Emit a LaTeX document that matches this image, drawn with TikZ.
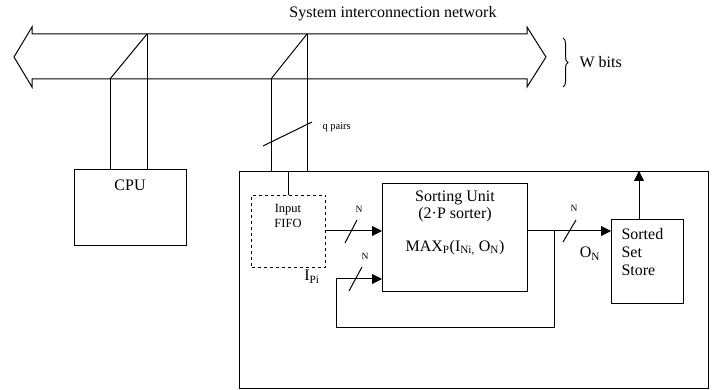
\documentclass[tikz,border=0pt]{standalone}
\usepackage{fontspec}
\setmainfont{Liberation Serif}
\usetikzlibrary{arrows.meta,decorations.pathreplacing}
\begin{document}
\begin{tikzpicture}[x=1pt,y=-1pt,
  line width=1pt,
  box/.style={draw, rectangle, inner sep=0pt, anchor=north west},
  big/.style={font=\fontsize{16}{19}\selectfont, inner sep=0pt},
  mid/.style={font=\fontsize{12.5}{15}\selectfont, inner sep=0pt},
  tiny/.style={font=\fontsize{9.5}{11}\selectfont, inner sep=0pt},
  arr/.style={-{Triangle[length=10pt,width=10pt]}},
]
\useasboundingbox (0,0) rectangle (713,390);

% bus
\draw (14,57) -- (32,27) -- (32,34) -- (527,34) -- (527,27) -- (546,57) -- (527,87) -- (527,79) -- (32,79) -- (32,87) -- cycle;
\node[big] (title) at (393,14) {System interconnection network};
\draw[decorate, decoration={brace, amplitude=5pt}] (563,38) -- (563,87);
\node[big, anchor=west] (wbits) at (579,62) {W bits};

% taps
\coordinate (c1a) at (110,79);
\coordinate (c1b) at (147,34);
\coordinate (c2a) at (271,79);
\coordinate (c2b) at (307,34);

% boxes
\node[box, minimum width=112pt, minimum height=76pt] (cpu) at (74,169) {};
\node[big] (cputxt) at (130,185) {CPU};
\node[box, minimum width=469pt, minimum height=217pt] (sys) at (239,171) {};
\node[box, dashed, minimum width=74pt, minimum height=72pt] (fifo) at (251,195) {};
\node[mid, align=center] (fifotxt) at (288,216) {Input\\FIFO};
\node[box, minimum width=145pt, minimum height=108pt] (sort) at (382,183) {};
\node[big] (s1) at (455,198) {Sorting Unit};
\node[big] (s2) at (455,215) {(2·P sorter)};
\node[big] (s3) at (455,248) {MAX\textsubscript{P}(I\textsubscript{Ni,} O\textsubscript{N})};
\node[box, minimum width=72pt, minimum height=84pt] (store) at (611,219) {};
\node[big, anchor=west] (st1) at (621,234) {Sorted};
\node[big, anchor=west] (st2) at (621,252) {Set};
\node[big, anchor=west] (st3) at (621,270) {Store};

% bus to CPU
\draw (c1a) -- (c1b);
\draw (c1b) -- (c1b |- cpu.north);
\draw (c1a) -- (c1a |- cpu.north);
% bus to system
\draw (c2a) -- (c2b);
\draw (c2b) -- (c2b |- sys.north);
\draw (c2a) -- (c2a |- sys.north);
\draw (263,146) -- (312,122);
\node[tiny, anchor=west, font=\fontsize{10.5}{12}\selectfont] (qp) at (322,127) {q pairs};
\draw (fifo.north) -- (fifo.north |- sys.north);
\node[big] (ipi) at (312,277) {I\textsubscript{Pi}};

% FIFO to sorter
\coordinate (in1) at (325,231);
\draw[arr] (in1) -- (in1 -| sort.west);
\draw (345,243) -- (357,220);
\node[tiny] (n1) at (359,209) {N};

% output
\coordinate (o1) at (527,231);
\coordinate (br) at (554,231);
\draw[arr] (o1) -- (o1 -| store.west);
\draw (563,242) -- (576,220);
\node[tiny] (n3) at (574,208) {N};
\node[big] (on) at (590,254) {O\textsubscript{N}};

% feedback
\coordinate (fb) at (336,279);
\draw[arr] (br) -- (554,328) -- (336,328) -- (fb) -- (fb -| sort.west);
\draw (349,291) -- (362,267);
\node[tiny] (n2) at (365,256) {N};

% store up
\draw[arr] (store.north -| 639,0) -- (639,171);
\end{tikzpicture}
\end{document}
